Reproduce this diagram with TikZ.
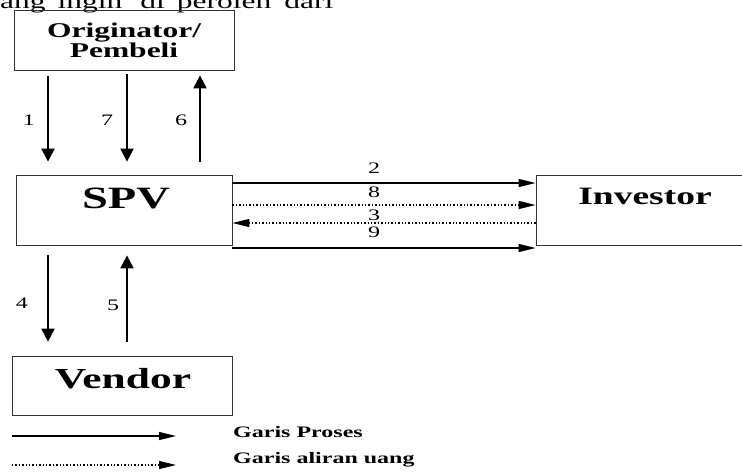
\documentclass[tikz,border=0pt]{standalone}
\usepackage{fontspec}
\setmainfont{Liberation Serif}
\usetikzlibrary{arrows.meta}
\newcommand{\lebar}[1]{\scalebox{1.5}[1]{#1}}

\begin{document}
\begin{tikzpicture}[x=1pt,y=1pt,
  kotak/.style={draw=black!80,line width=0.8pt,inner sep=0pt},
  judul/.style={font=\bfseries\fontsize{#1}{#1}\selectfont,anchor=base},
  angka/.style={font=\fontsize{16}{16}\selectfont},
  ket/.style={font=\bfseries\fontsize{16}{16}\selectfont,anchor=base west},
  proses/.style={-{Triangle[length=13pt,width=13pt]},line width=2.2pt},
  alir/.style={-{Triangle[length=17pt,width=8pt]},line width=1.1pt},
  uang/.style={alir,dash pattern=on 1.4pt off 2pt}]
\clip (0,0) rectangle (742,-472);
\node[anchor=base west,inner sep=0pt,font=\fontsize{21}{21}\selectfont] (teks) at (0,-8)
  {\lebar{ang}\hspace{12pt}\lebar{ingin}\hspace{18pt}\lebar{di}\hspace{12pt}\lebar{peroleh}\hspace{13pt}\lebar{dari}};
% kotak
\node[kotak,minimum width=220pt,minimum height=60pt,align=center,
  font=\bfseries\fontsize{21}{20}\selectfont] (O) at (124,-40) {\lebar{Originator/}\\\lebar{Pembeli}};
\node[kotak,minimum width=216pt,minimum height=70pt] (S) at (124,-210) {};
\node[kotak,minimum width=224pt,minimum height=70pt] (I) at (648,-210) {};
\node[kotak,minimum width=220pt,minimum height=59pt] (V) at (122,-385.5) {};
\node[judul=31] (tS) at (126,-208) {\lebar{SPV}};
\node[judul=25] (tI) at (645,-204) {\lebar{Investor}};
\node[judul=29] (tV) at (123,-388) {\lebar{Vendor}};
% panah vertikal
\draw[proses] ([xshift=-76pt,yshift=-6pt]O.south)--([xshift=-76pt,yshift=13pt]S.north);
\draw[proses] ([xshift=3pt,yshift=-4pt]O.south)--([xshift=3pt,yshift=13pt]S.north);
\draw[proses] ([xshift=76pt,yshift=13pt]S.north)--([xshift=76pt,yshift=-5pt]O.south);
\draw[proses] ([xshift=-76pt,yshift=-10pt]S.south)--([xshift=-74pt,yshift=14pt]V.north);
\draw[proses] ([xshift=5pt,yshift=14pt]V.north)--([xshift=3pt,yshift=-10pt]S.south);
\node[angka] (n1) at (29,-120) {\lebar{1}};
\node[angka] (n7) at (107,-120) {\lebar{7}};
\node[angka] (n6) at (181,-120) {\lebar{6}};
\node[angka] (n4) at (22,-303) {\lebar{4}};
\node[angka] (n5) at (113,-305) {\lebar{5}};
% panah horizontal
\draw[alir] ([yshift=27pt]S.east)--([yshift=27pt]I.west);
\draw[uang] ([yshift=5pt]S.east)--([yshift=5pt]I.west);
\draw[uang] ([yshift=-13pt]I.west)--([yshift=-13pt]S.east);
\draw[alir] ([yshift=-38pt]S.east)--([yshift=-38pt]I.west);
\node[angka] (n2) at (374,-168) {\lebar{2}};
\node[angka] (n8) at (374,-192) {\lebar{8}};
\node[angka] (n3) at (374,-215) {\lebar{3}};
\node[angka] (n9) at (374,-232) {\lebar{9}};
% keterangan
\coordinate (p1) at (12,-436);
\coordinate (p2) at (176,-436);
\coordinate (u1) at (12,-465);
\coordinate (u2) at (176,-465);
\draw[alir] (p1)--(p2);
\draw[uang] (u1)--(u2);
\node[ket,inner sep=0pt] (kp) at (233,-437) {\lebar{Garis Proses}};
\node[ket,inner sep=0pt] (ku) at (233,-463) {\lebar{Garis aliran uang}};
\end{tikzpicture}
\end{document}
